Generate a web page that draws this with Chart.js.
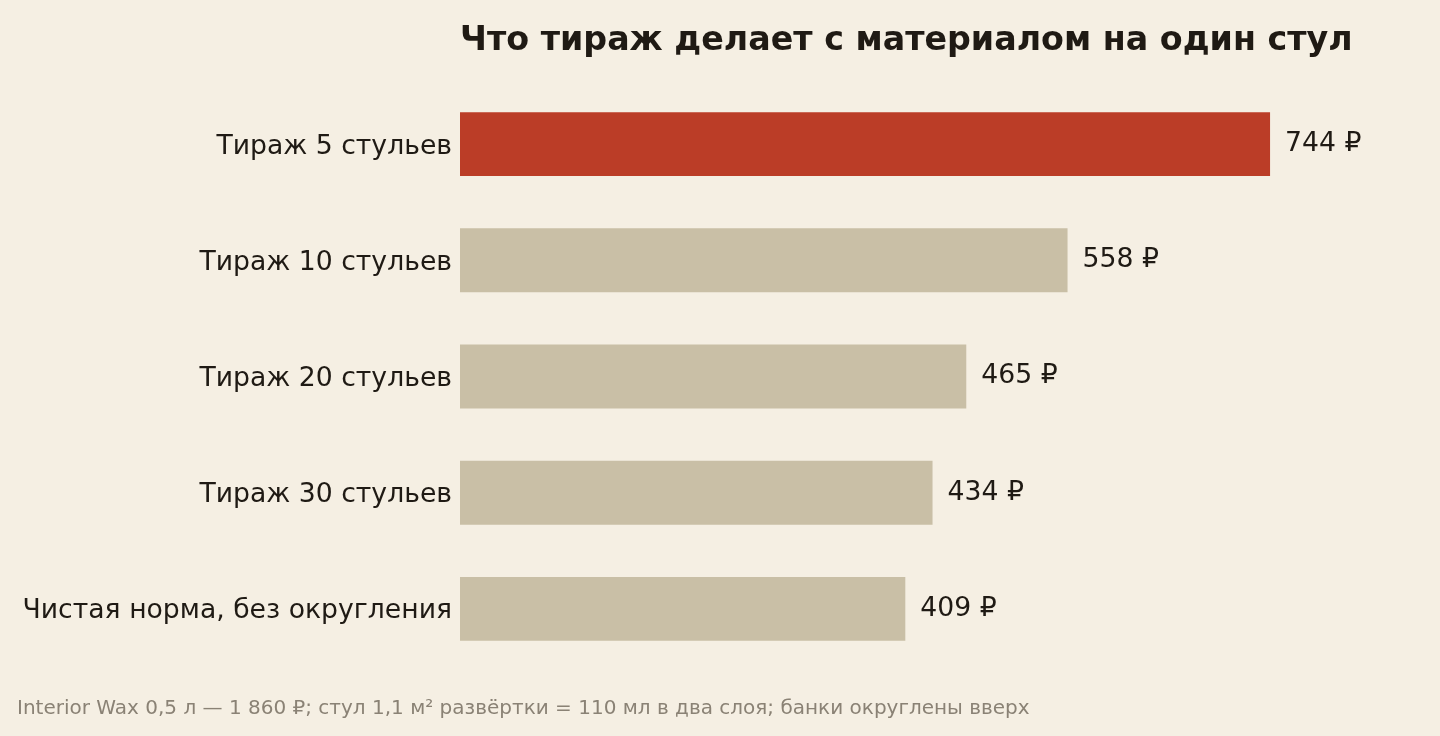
<!DOCTYPE html>
<html>
<head>
<meta charset="utf-8">
<script src="https://cdn.jsdelivr.net/npm/chart.js@4"></script>
<style>
  html, body { margin: 0; padding: 0; background: #f5efe3; }
  #chart { display: block; }
</style>
</head>
<body>
<canvas id="chart" width="1440" height="736"></canvas>
<script>
const categories = ["Тираж 5 стульев", "Тираж 10 стульев", "Тираж 20 стульев", "Тираж 30 стульев", "Чистая норма, без округления"];
const values = [744, 558, 465, 434, 409];
const barColors = ["#bb3d27", "#c9bfa6", "#c9bfa6", "#c9bfa6", "#c9bfa6"];
const titleText = "Что тираж делает с материалом на один стул";
const footerText = "Interior Wax 0,5 л — 1 860 ₽; стул 1,1 м² развёртки = 110 мл в два слоя; банки округлены вверх";

const FONT = "'DejaVu Sans', sans-serif";

// подписи значений справа от столбцов + заголовок и сноска
const extrasPlugin = {
    id: "extras",
    afterDatasetsDraw(chart) {
        const ctx = chart.ctx;
        const meta = chart.getDatasetMeta(0);
        ctx.save();
        ctx.font = "26.67px " + FONT;
        ctx.fillStyle = "#1f1a14";
        ctx.textAlign = "left";
        ctx.textBaseline = "middle";
        meta.data.forEach((bar, i) => {
            ctx.fillText(values[i] + " ₽", bar.x + 15, bar.y);
        });

        ctx.font = "bold 33.3px " + FONT;
        ctx.fillText(titleText, chart.chartArea.left, 41);

        ctx.font = "20px " + FONT;
        ctx.fillStyle = "#8a8275";
        ctx.fillText(footerText, 17, 709);
        ctx.restore();
    }
};

new Chart(document.getElementById("chart").getContext("2d"), {
    type: "bar",
    data: {
        labels: categories,
        datasets: [{
            data: values,
            backgroundColor: barColors,
            borderWidth: 0,
            barPercentage: 0.55,
            categoryPercentage: 1
        }]
    },
    options: {
        indexAxis: "y",
        responsive: false,
        devicePixelRatio: 1,
        animation: false,
        layout: { padding: { top: 86, bottom: 69, left: 0, right: 48 } },
        scales: {
            x: {
                display: false,
                min: 0,
                max: 856,
                grid: { display: false }
            },
            y: {
                grid: { display: false, drawTicks: false },
                border: { display: false },
                ticks: {
                    color: "#1f1a14",
                    font: { family: FONT, size: 26.67 },
                    padding: 8,
                    labelOffset: 2.5
                },
                afterFit(scale) { scale.width = 460; }
            }
        },
        plugins: {
            legend: { display: false },
            tooltip: { enabled: false }
        }
    },
    plugins: [extrasPlugin]
});
</script>
</body>
</html>
